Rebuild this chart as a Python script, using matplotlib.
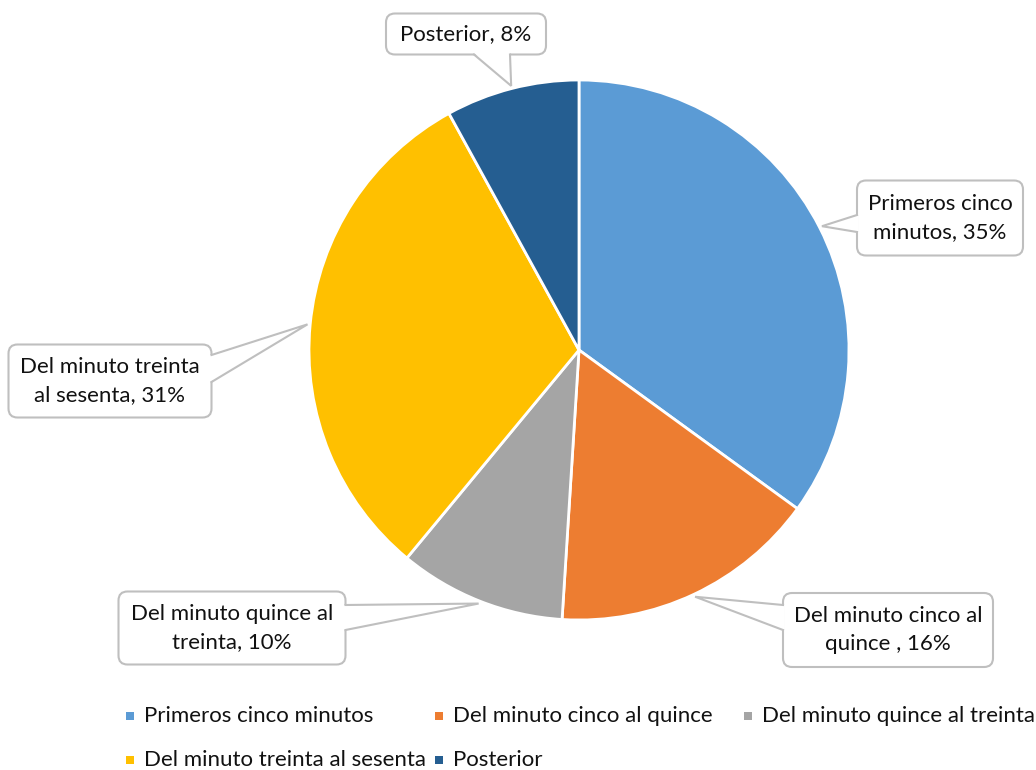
import matplotlib.pyplot as plt
from matplotlib.patches import FancyBboxPatch, Polygon, Rectangle
import numpy as np

plt.rcParams['font.family'] = ['Lato', 'DejaVu Sans']

categories = ['Primeros cinco minutos', 'Del minuto cinco al quince',
              'Del minuto quince al treinta', 'Del minuto treinta al sesenta',
              'Posterior']
values = [35, 16, 10, 31, 8]
label_texts = ['Primeros cinco\nminutos, 35%', 'Del minuto cinco al\nquince , 16%',
               'Del minuto quince al\ntreinta, 10%', 'Del minuto treinta\nal sesenta, 31%',
               'Posterior, 8%']
colors = ['#5B9BD5', '#ED7D31', '#A5A5A5', '#FFC000', '#255E91']

W, H = 1036, 770
fig = plt.figure(figsize=(W / 100, H / 100), dpi=100)
ax = fig.add_axes([0, 0, 1, 1])

cx, cy, R = 579, H - 350, 270
wedges, _ = ax.pie(values, colors=colors, startangle=90, counterclock=False,
                   radius=R, center=(cx, cy),
                   wedgeprops=dict(edgecolor='white', linewidth=2))
ax.set_xlim(0, W)
ax.set_ylim(0, H)
ax.axis('off')

# callout boxes: centre (x, y from top), width, height, side of pointer base
boxes = [
    ((940, 218), 166, 75, 'left', (215, 232)),
    ((888, 630), 210, 74, 'left', (605, 630)),
    ((232, 628), 227, 73, 'right', (605, 630)),
    ((110, 381), 203, 73, 'right', (355, 382)),
    ((466, 34), 160, 41, 'bottom', (474, 510)),
]

fs = 16
edge = '#BFBFBF'
for w, txt, (cen, bw, bh, side, base) in zip(wedges, label_texts, boxes):
    mid = np.deg2rad((w.theta1 + w.theta2) / 2)
    tip = (cx + 1.01 * R * np.cos(mid), cy + 1.01 * R * np.sin(mid))
    bx, by = cen[0], H - cen[1]
    x0, y0 = bx - bw / 2, by - bh / 2
    ax.add_patch(FancyBboxPatch((x0, y0), bw, bh,
                                boxstyle='round,pad=0,rounding_size=9',
                                fc='white', ec=edge, lw=1.5, zorder=5))
    if side == 'left':
        p1, p2 = (x0, H - base[0]), (x0, H - base[1])
        d = (1.5, 0)
    elif side == 'right':
        p1, p2 = (x0 + bw, H - base[0]), (x0 + bw, H - base[1])
        d = (-1.5, 0)
    else:
        p1, p2 = (base[0], y0), (base[1], y0)
        d = (0, 1.5)
    ax.add_patch(Polygon([(p1[0] + d[0], p1[1] + d[1]), tip,
                          (p2[0] + d[0], p2[1] + d[1])],
                         closed=True, fc='white', ec='none', zorder=6))
    ax.plot([p1[0], tip[0], p2[0]], [p1[1], tip[1], p2[1]],
            color=edge, lw=1.5, zorder=7, solid_joinstyle='miter')
    ax.text(bx, by, txt, ha='center', va='center', ma='center',
            fontsize=fs, color='#111111', linespacing=1.5, zorder=8)

# legend laid out like the original (fixed column width)
for i, (name, col) in enumerate(zip(categories, colors)):
    r, c = divmod(i, 3)
    lx = 126 + c * 309
    ly = H - (716 + r * 44)
    ax.add_patch(Rectangle((lx, ly - 4), 8, 8, fc=col, ec='none'))
    ax.text(lx + 18, ly, name, ha='left', va='center', fontsize=fs,
            color='#111111')

fig.savefig('out.png', dpi=100)
